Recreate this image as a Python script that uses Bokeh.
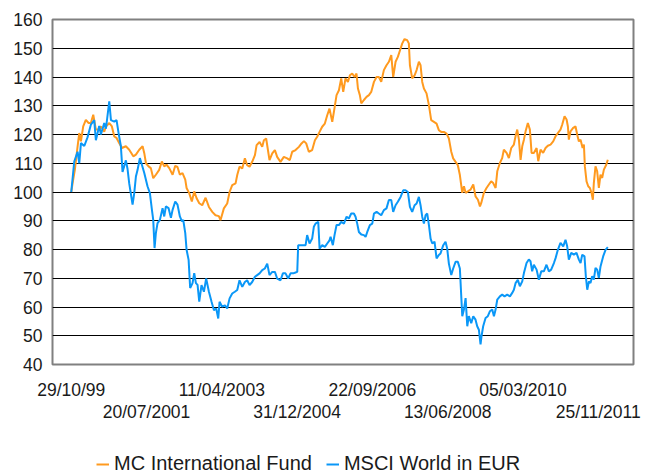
import pandas as pd
from bokeh.plotting import figure
from bokeh.layouts import column
from bokeh.models import (Range1d, FixedTicker, LinearAxis, Legend, LegendItem,
                          ColumnDataSource)
from bokeh.embed import file_html
from bokeh.resources import INLINE

# ---------------- data ----------------
start_date = "1999-10-29"

x_labels_row1 = ["29/10/99", "11/04/2003", "22/09/2006", "05/03/2010"]
x_labels_row2 = ["20/07/2001", "31/12/2004", "13/06/2008", "25/11/2011"]
y_ticks = [40, 50, 60, 70, 80, 90, 100, 110, 120, 130, 140, 150, 160]

series_names = ["MC International Fund", "MSCI World in EUR"]

# days after start_date, and index level
fund_days = [0, 11, 30, 53, 67, 81, 100, 122, 145, 164, 184, 206, 228, 248, 276, 290, 318, 340, 360, 379,
             401, 424, 457, 485, 519, 541, 569, 597, 611, 625, 647, 666, 686, 708, 736, 758, 778, 797, 820, 848,
             870, 889, 909, 931, 954, 965, 987, 1009, 1029, 1048, 1071,
             1096, 1124, 1152, 1180, 1207, 1235, 1249, 1277, 1305, 1325, 1347, 1375, 1389, 1408, 1431, 1453, 1472,
             1492, 1514, 1537, 1551, 1576, 1598, 1612, 1631, 1648, 1659, 1682, 1704, 1723, 1751, 1779, 1807, 1829,
             1849, 1877, 1905, 1927, 1947, 1966, 1988, 2016, 2039, 2058, 2078, 2100, 2122, 2142, 2161,
             2184, 2198, 2220, 2240, 2259, 2276, 2295, 2315, 2332, 2351, 2371, 2387, 2399, 2415, 2427, 2449, 2471,
             2491, 2510, 2533, 2555, 2574, 2594, 2616, 2638, 2658, 2678, 2694, 2714, 2733, 2756, 2770, 2789, 2811,
             2825, 2834, 2853, 2873, 2890, 2909, 2923, 2937, 2951, 2973, 2993, 3012, 3035, 3057, 3076, 3096, 3118,
             3141, 3160, 3180, 3196, 3216, 3235, 3252,
             3272, 3286, 3300, 3319, 3341, 3364, 3383, 3403, 3420, 3431, 3453, 3475, 3495, 3514, 3531, 3551, 3565,
             3587, 3606, 3620, 3643, 3662, 3682, 3704, 3718, 3732, 3746, 3760, 3774, 3788, 3802, 3821, 3838, 3852,
             3871, 3894, 3908, 3927, 3949, 3969, 3988, 4011, 4033, 4053, 4072, 4094, 4108, 4128, 4145, 4156, 4164,
             4178, 4200, 4220, 4234, 4248, 4262, 4279, 4290, 4298, 4312, 4326, 4340, 4354, 4365, 4373, 4387, 4401,
             4415, 4429, 4443, 4457, 4477, 4490]
fund_vals = [100, 103, 107.7, 115.9, 120.5, 117.6, 122.8, 125.1, 124, 124, 126.9, 121.7, 121.7, 122.8, 121, 122.8,
             124, 122.8, 119.3, 118.8, 117, 115.3, 115.9, 114.7, 112.4, 113, 114.7, 115.9, 113.5, 110, 108.9, 108.3,
             104.8, 106, 107.7, 110.6, 108.9, 109.5, 108.3, 106, 109.1, 108.7, 106, 106.6, 104.3, 101.4, 99.6, 96.7,
             100.2, 97.9, 96.1,
             95.4, 98, 94.8, 93.1, 91.9, 91.6, 90.2, 94.3, 96, 100, 102.4, 103, 105.9, 108.8, 108.2, 111.7, 109.3,
             108.8, 110.5, 112.8, 116.3, 117.4, 115.7, 118, 118.6, 114, 111.1, 113.4, 114.6, 112.2, 110.5, 112.2,
             111.7, 111.1, 114, 114.6, 115.7, 116.9, 117.7, 116.9, 114, 114.6, 118, 119.2, 120.9, 122.7, 123.8,
             126.7, 129,
             124.4, 127.9, 133.7, 135.4, 139.5, 134.8, 139.5, 138.3, 140.6, 141.2, 140, 141.2, 136, 133.7, 130.8,
             132, 133.1, 133.7, 134.8, 138.3, 140, 140, 138.3, 142.4, 144.1, 145.3, 147.6, 140, 145.3, 147, 149.9,
             151.7, 153.2, 152.8, 151.7, 144.1, 139.5, 140.6, 142.4, 145.3, 144.1, 138.3, 136, 134.3, 130.2, 125,
             124.4, 123.8, 121.5, 120.9, 120.9, 120.3, 118.6, 114, 111.7, 110.5, 109.3, 105.9,
             99.7, 102, 99.7, 100.2, 100.8, 102.6, 98.5, 97.3, 95, 96.2, 99.7, 101.4, 102.6, 103.7, 103.1, 101.4,
             107.2, 110.1, 111.8, 114.7, 113.6, 111.8, 115.3, 116.5, 119.4, 121.7, 118.2, 111.2, 115.9, 118.2, 121.1,
             124, 121.7, 113.6, 113.6, 115.3, 110.7, 114.7, 113.6, 115.3, 116.1, 116.5, 117.6, 119.4, 120.5, 121.7,
             123.4, 126.3, 125.2, 122.8, 118.2, 121.1, 122.3, 122.8, 119.9, 117.6, 118.2, 115.3, 116.5, 108.9, 103.7,
             102, 101.4, 99.7, 97.3, 103.1, 108.9, 107.2, 101.4, 106, 104.9, 107.8, 109.5, 111.2]

msci_days = [0, 25, 53, 67, 81, 109, 136, 164, 192, 206, 234, 248, 276, 290, 318, 332, 360, 379, 396, 415,
             429, 443, 457, 471, 485, 513, 527, 541, 555, 574, 591, 611, 638, 658, 675, 686, 697, 708, 722, 742,
             764, 778, 792, 814, 834, 848, 870, 889, 909, 926, 937, 954, 965, 982, 995, 1015, 1029, 1043, 1057, 1071,
             1090, 1110, 1129, 1152, 1174, 1194, 1213, 1230, 1241, 1263, 1286, 1305, 1325, 1347, 1369, 1389, 1408,
             1431, 1453, 1472, 1492, 1514, 1537, 1556, 1576, 1598, 1620, 1640, 1659, 1682, 1704, 1723, 1751, 1771,
             1793, 1815, 1835, 1857, 1877, 1891, 1899, 1919, 1938, 1961, 1974, 1994, 2016, 2030, 2044, 2067, 2078,
             2100, 2122, 2142, 2161,
             2170, 2189, 2203, 2220, 2240, 2259, 2282, 2304, 2323, 2343, 2365, 2379, 2393, 2407, 2427, 2449, 2463,
             2477, 2499, 2519, 2533, 2555, 2574, 2594, 2616, 2638, 2658, 2678, 2694, 2714, 2733, 2756, 2778, 2797,
             2817, 2834, 2853, 2873, 2890, 2909, 2923, 2937, 2951, 2965, 2979, 2993, 3007, 3021, 3040, 3057, 3076,
             3090, 3113, 3132, 3146, 3160, 3180, 3196, 3216, 3235, 3252,
             3272, 3286, 3300, 3314, 3327, 3347, 3364, 3383, 3397, 3411, 3425, 3433, 3447, 3467, 3486, 3503, 3523,
             3537, 3551, 3565, 3587, 3606, 3626, 3648, 3671, 3690, 3704, 3718, 3737, 3754, 3774, 3788, 3810, 3829,
             3843, 3857, 3871, 3894, 3913, 3933, 3955, 3977, 3997, 4016, 4039, 4053, 4072, 4094, 4117, 4136, 4150,
             4164, 4184, 4206, 4228, 4248, 4262, 4276, 4295, 4306, 4318, 4332, 4345, 4359, 4373, 4387, 4401, 4415,
             4429, 4451, 4471, 4490]
msci_vals = [100, 110.6, 114, 110, 117, 116, 119, 123.4, 125, 118, 123, 120, 124, 122, 131.5, 125, 124.5, 125, 120.5,
             116, 107, 109, 111, 108, 103, 95.6, 99.6, 105.4, 107.7, 111.8, 109.5, 106.6, 102, 99.6, 93.8, 90.3,
             80.5, 85.7, 89.2, 90.3, 94.4, 91.5, 95, 94.4, 91, 93.8, 96.7, 95.6, 91.5, 89.8, 90.3, 85.7, 79.9, 76.4,
             66.6, 68.3, 71.8, 68.3, 67.7, 61.9,
             67.6, 65.3, 69.9, 65.3, 61.8, 58.9, 59.5, 56, 61.8, 60.1, 60.6, 59.5, 63, 64.7, 65.3, 65.9, 69.3, 67,
             68.7, 69.3, 67.6, 68.7, 70.5, 71.1, 71.7, 72.8, 73.4, 75.1, 71.1, 72.2, 72.2, 69.9, 69.3, 71.7, 71.7,
             69.9, 71.7, 71.7, 72, 72.2, 81.5, 81.5, 81.5, 81.5, 85, 82.1, 83.8, 87.9, 89, 89.6, 80.3, 81.5, 80.9,
             82.1, 83.2,
             84.4, 81.5, 85, 88.5, 88.5, 89.6, 89, 91.4, 90.8, 92.5, 92.5, 91.4, 89, 86.1, 85.2, 85, 84.4, 86.1, 88.5,
             89, 92.5, 93.1, 92.5, 91.9, 93.7, 94.3, 97.2, 97.2, 93.1, 95.4, 96.6, 98.3, 100.6, 100.6, 100, 94.8,
             93.1, 95.4, 96, 98.3, 95.4, 91.4, 89, 91.9, 92.5, 88.5, 83.8, 82.1, 82.7, 76.9, 78.1, 78.6, 81.5, 82.7,
             80.3, 75.1, 71.1, 73.4, 75.7, 75.7, 73.4,
             56.8, 59.1, 63.1, 53.3, 56.8, 54.4, 56.8, 55.6, 53.3, 52.1, 47, 49.8, 53.3, 56.2, 56.8, 58.5, 59.1, 56.8,
             59.1, 62.6, 63.7, 64.3, 63.7, 64.3, 63.7, 64.9, 66, 68.3, 69.5, 67.2, 68.9, 71.8, 75.3, 76.5, 75.9, 72.4,
             74.7, 73, 69.5, 72.4, 72.4, 74.7, 72.4, 73, 75.3, 77, 79.9, 82.3, 81.1, 83.4, 81.1, 76.5, 78.8, 78.2,
             78.8, 76.5, 75.3, 78.2, 77.6, 70.7, 66, 68.9, 68.3, 70.7, 69.5, 73.6, 73, 70.1, 74.1, 77.6, 79.9, 80.8]

# ---------------- style ----------------
FONT = "Liberation Sans"
FS = "17.5px"
LEG_FS = "20px"
ORANGE = "#FF9A1F"
BLUE = "#0A97F7"
TEXT = "#1a1a1a"

start = pd.Timestamp(start_date)


def to_day(label):
    fmt = "%d/%m/%y" if len(label) == 8 else "%d/%m/%Y"
    return int((pd.to_datetime(label, format=fmt) - start).days)


row1_days = [to_day(l) for l in x_labels_row1]
row2_days = [to_day(l) for l in x_labels_row2]

# ---------------- main chart ----------------
p = figure(width=652, height=440, output_backend="svg", toolbar_location=None,
           x_range=Range1d(-157, 4705), y_range=Range1d(y_ticks[0], y_ticks[-1]),
           min_border_left=52, min_border_right=19, min_border_top=19, min_border_bottom=76)
p.background_fill_color = "white"
p.border_fill_color = "white"
p.outline_line_color = "#808080"
p.outline_line_width = 2

p.yaxis.ticker = FixedTicker(ticks=y_ticks)
p.yaxis.axis_line_color = None
p.yaxis.major_tick_line_color = None
p.yaxis.minor_tick_line_color = None
p.yaxis.major_tick_out = 0
p.yaxis.major_tick_in = 0
p.yaxis.major_label_standoff = 10
p.yaxis.major_label_text_font = FONT
p.yaxis.major_label_text_font_size = FS
p.yaxis.major_label_text_color = TEXT

p.ygrid.ticker = FixedTicker(ticks=y_ticks[1:])
p.ygrid.grid_line_color = "black"
p.ygrid.grid_line_width = 1
p.xgrid.visible = False

ax1 = p.xaxis[0]
ax1.ticker = FixedTicker(ticks=row1_days)
ax1.major_label_overrides = {d: l for d, l in zip(row1_days, x_labels_row1)}
ax2 = LinearAxis(ticker=FixedTicker(ticks=row2_days),
                 major_label_overrides={d: l for d, l in zip(row2_days, x_labels_row2)})
p.add_layout(ax2, "below")
for ax, so in ((ax1, 15), (ax2, -1)):
    ax.axis_line_color = None
    ax.major_tick_line_color = None
    ax.minor_tick_line_color = None
    ax.major_tick_out = 0
    ax.major_tick_in = 0
    ax.major_label_standoff = so
    ax.major_label_text_font = FONT
    ax.major_label_text_font_size = FS
    ax.major_label_text_color = TEXT

src_f = ColumnDataSource(data=dict(day=fund_days, val=fund_vals))
src_m = ColumnDataSource(data=dict(day=msci_days, val=msci_vals))
p.line(x="day", y="val", source=src_f, line_color=ORANGE, line_width=2)
p.line(x="day", y="val", source=src_m, line_color=BLUE, line_width=2)

# ---------------- legend strip (keys reuse the series, out of its view) ----------------
lf = figure(width=652, height=35, output_backend="svg", toolbar_location=None,
            x_range=Range1d(0, 1), y_range=Range1d(0, 1), min_border=0)
lf.axis.visible = False
lf.grid.visible = False
lf.outline_line_color = None
lf.background_fill_color = "white"
lf.border_fill_color = "white"
key_f = lf.line(x="day", y="val", source=src_f, line_color=ORANGE, line_width=2)
key_m = lf.line(x="day", y="val", source=src_m, line_color=BLUE, line_width=2)
legend = Legend(items=[LegendItem(label=series_names[0], renderers=[key_f]),
                       LegendItem(label=series_names[1], renderers=[key_m])],
                orientation="horizontal", location=(44, 0),
                border_line_color=None, background_fill_alpha=0,
                glyph_width=13, glyph_height=20, label_height=20, label_standoff=5,
                spacing=14, padding=0, margin=0,
                label_text_font=FONT, label_text_font_size=LEG_FS, label_text_color=TEXT)
lf.add_layout(legend)

open("out.html", "w").write(file_html(column(p, lf, spacing=0), INLINE))
